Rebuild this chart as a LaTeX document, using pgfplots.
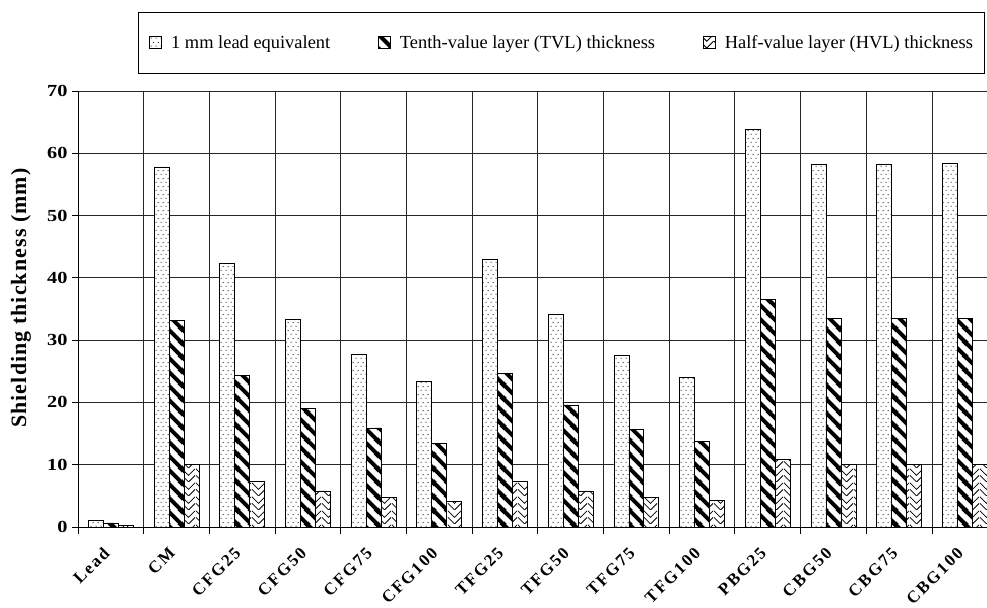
\documentclass[border=0pt]{standalone}
\usepackage{fontspec}
\setmainfont{Liberation Serif}
\usepackage{pgfplots}
\usepackage{pgfplotstable}
\pgfplotsset{compat=1.18}
\usetikzlibrary{patterns.meta}

% fill patterns for the three series
\tikzdeclarepattern{
  name=sparsedots, type=uncolored,
  bounding box={(0bp,0bp) and (5bp,8bp)}, tile size={(5bp,8bp)},
  code={\fill (1.25bp,2bp) circle (0.65bp) (3.75bp,6bp) circle (0.65bp);}
}
\tikzdeclarepattern{
  name=thickstripes, type=uncolored,
  bounding box={(0bp,0bp) and (14bp,14bp)}, tile size={(14bp,14bp)},
  code={\draw[line width=4.2bp,line cap=rect] (-2bp,16bp)--(16bp,-2bp)
        (-3bp,3bp)--(3bp,-3bp) (11bp,17bp)--(17bp,11bp);}
}
\tikzdeclarepattern{
  name=chevrons, type=uncolored,
  bounding box={(0bp,0bp) and (14bp,14bp)}, tile size={(14bp,14bp)},
  code={\draw[line width=0.8bp] (0bp,14bp)--(7bp,7bp)--(14bp,14bp)
        (0bp,7bp)--(7bp,0bp)--(14bp,7bp);}
}

\pgfplotstableread{
x   lead  tvl   hvl
0   1.05  0.65  0.2
1   57.8  33.2  10.0
2   42.3  24.3  7.3
3   33.3  19.1  5.8
4   27.7  15.9  4.7
5   23.4  13.4  4.1
6   42.9  24.7  7.3
7   34.1  19.6  5.8
8   27.5  15.6  4.7
9   24.1  13.7  4.3
10  63.8  36.5  10.9
11  58.2  33.5  10.1
12  58.2  33.5  10.0
13  58.4  33.5  10.0
}\shielding

\begin{document}
\begin{tikzpicture}
\useasboundingbox (0,0) rectangle (987bp,608bp);
\begin{axis}[
  at={(78bp,81bp)}, anchor=south west,
  scale only axis, width=909bp, height=436bp,
  ybar, bar width=0.228,
  xmin=-0.5, xmax=13.338,
  ymin=0, ymax=70,
  ytick={0,10,...,70},
  xtick={0,...,13},
  xticklabels={Lead,CM,CFG25,CFG50,CFG75,CFG100,TFG25,TFG50,TFG75,TFG100,PBG25,CBG50,CBG75,CBG100},
  minor xtick={-0.5,0.5,...,13.5},
  axis x line=bottom, axis y line=left,
  axis line style={-, line width=0.9bp, black},
  tick align=outside,
  major tick length=6bp, minor tick length=7bp,
  tick style={line width=0.9bp, black},
  major x tick style={draw=none},
  ymajorgrids=true, xminorgrids=true,
  grid style={line width=0.9bp, black!85},
  minor grid style={line width=0.9bp, black!85},
  /pgf/number format/assume math mode=true,
  yticklabel style={font=\fontsize{17}{20}\selectfont\bfseries\addfontfeature{FakeStretch=1.2}, xshift=-1bp},
  xticklabel style={font=\fontsize{17}{20}\selectfont\bfseries\addfontfeature{LetterSpace=12},
                    xshift=-2bp, yshift=-15bp, rotate=45, anchor=east},
  ylabel={Shielding thickness (mm)},
  every axis y label/.style={at={(axis description cs:-0.0627,0.525)}, rotate=90, anchor=center,
                             font=\fontsize{22}{26}\selectfont\bfseries\addfontfeature{LetterSpace=5}},
  legend columns=3,
  legend style={at={(axis description cs:0.066,1.181)}, anchor=north west,
                draw=black, line width=0.8bp, inner xsep=11bp, inner ysep=23bp,
                nodes={inner sep=0bp},
                font=\fontsize{18.5}{22}\selectfont,
                /tikz/every odd column/.append style={column sep=9bp},
                /tikz/every even column/.append style={column sep=48bp}},
  legend image code/.code={\draw[#1] (0bp,-6bp) rectangle (12bp,6bp);},
]
\addplot[draw=black, line width=0.7bp, fill=white, postaction={pattern=sparsedots}, bar shift=-0.228]
  table[x=x, y=lead] {\shielding};
\addplot[draw=black, line width=0.7bp, fill=white, postaction={pattern=thickstripes}, bar shift=0]
  table[x=x, y=tvl] {\shielding};
\addplot[draw=black, line width=0.7bp, fill=white, postaction={pattern=chevrons}, bar shift=0.228]
  table[x=x, y=hvl] {\shielding};
\legend{1 mm lead equivalent, Tenth-value layer (TVL) thickness, Half-value layer (HVL) thickness}
\end{axis}
\end{tikzpicture}
\end{document}
